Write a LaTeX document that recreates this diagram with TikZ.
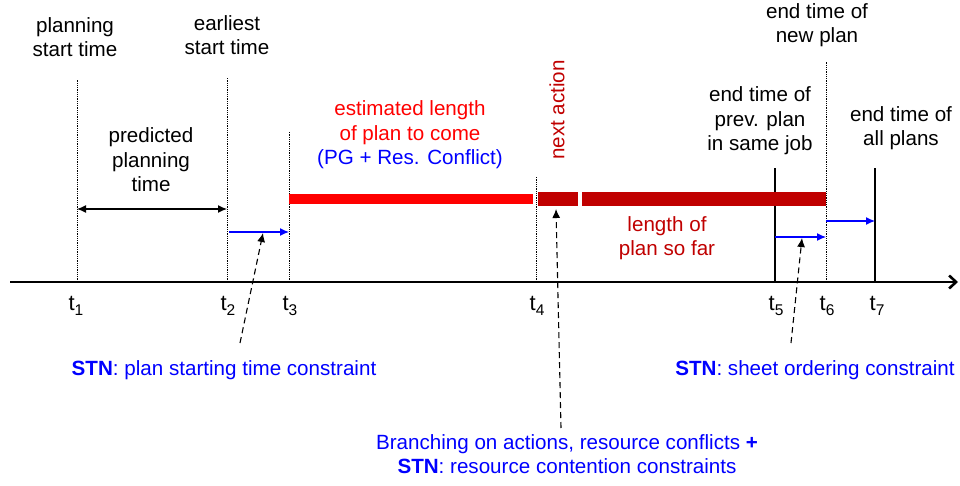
\documentclass[tikz,border=0pt]{standalone}
\usepackage{fontspec}
\setmainfont{Liberation Sans}
\usetikzlibrary{arrows.meta}
\definecolor{darkred}{RGB}{192,0,0}
\tikzstyle{txt}=[align=center,inner sep=0pt,font=\fontsize{20.6}{24.5}\selectfont]
\tikzstyle{tlab}=[anchor=base,inner sep=0pt,font=\fontsize{22}{24}\selectfont]
\newcommand{\tsub}[1]{t\raisebox{-5pt}{\fontsize{15.5}{16}\selectfont #1}}

\begin{document}
\begin{tikzpicture}[x=1pt,y=1pt]
\tikzstyle{tick}=[densely dotted,line width=0.8pt]
\tikzstyle{post}=[line width=1.9pt]
\tikzstyle{stn}=[blue,line width=1.2pt,-{Latex[length=9pt,width=8pt]}]
\tikzstyle{hint}=[dash pattern=on 6pt off 4pt,line width=1.1pt,-{Latex[length=9pt,width=8pt]}]
\useasboundingbox (0,0) rectangle (960,485);
% time axis
\coordinate (o) at (10,203);
\coordinate (e) at (958,203);
\draw[line width=2.6pt,-{Straight Barb[length=7pt,width=13pt]}] (o) -- (e);
% time points
\coordinate (a1) at (77,203);
\coordinate (a2) at (227,203);
\coordinate (a3) at (289,203);
\coordinate (a4) at (536,203);
\coordinate (a5) at (775,203);
\coordinate (a6) at (826,203);
\coordinate (a7) at (875,203);
\coordinate (h1) at (77,405);
\coordinate (h2) at (227,408);
\coordinate (h3) at (289,353);
\coordinate (h4) at (536,308);
\coordinate (h5) at (775,317);
\coordinate (h6) at (826,423);
\coordinate (h7) at (875,317);
\draw[tick] (a1) -- (h1);
\draw[tick] (a2) -- (h2);
\draw[tick] (a3) -- (h3);
\draw[tick] (a4) -- (h4);
\draw[post] (a5) -- (h5);
\draw[tick] (a6) -- (h6);
\draw[post] (a7) -- (h7);
\node[tlab] (t1) at (76,175) {\tsub{1}};
\node[tlab] (t2) at (228,175) {\tsub{2}};
\node[tlab] (t3) at (290,175) {\tsub{3}};
\node[tlab] (t4) at (537,175) {\tsub{4}};
\node[tlab] (t5) at (776,175) {\tsub{5}};
\node[tlab] (t6) at (827,175) {\tsub{6}};
\node[tlab] (t7) at (877,175) {\tsub{7}};
% plan bars
\coordinate (r1) at (289,285.5);
\coordinate (r2) at (533,285.5);
\coordinate (n1) at (538,286);
\coordinate (n2) at (578,286);
\coordinate (n3) at (582,286);
\coordinate (n4) at (826,286);
\draw[red,line width=10pt] (r1) -- (r2);
\draw[darkred,line width=14pt] (n1) -- (n2);
\draw[darkred,line width=14pt] (n3) -- (n4);
% intervals
\coordinate (p1) at (77,276);
\coordinate (p2) at (227,276);
\draw[line width=1.2pt,{Latex[length=9pt,width=8pt]}-{Latex[length=9pt,width=8pt]}] (p1) -- (p2);
\coordinate (b1) at (229,253);
\coordinate (b2) at (289,253);
\draw[stn] (b1) -- (b2);
\coordinate (b3) at (775,248);
\coordinate (b4) at (826,248);
\draw[stn] (b3) -- (b4);
\coordinate (b5) at (826,264);
\coordinate (b6) at (875,264);
\draw[stn] (b5) -- (b6);
% labels
\node[txt] (l1) at (75,448) {planning\\start time};
\node[txt] (l2) at (227,450) {earliest\\start time};
\node[txt] (l3) at (151,325) {predicted\\planning\\time};
\node[txt,red] (l4) at (410,350) {estimated length\\of plan to come\\\textcolor{blue}{(PG + Res. Conflict)}};
\node[txt,darkred,rotate=90] (l5) at (557,375) {next action};
\node[txt,darkred] (l6) at (667,247) {length of\\plan so far};
\node[txt] (l7) at (760,364) {end time of\\prev. plan\\in same job};
\node[txt] (l8) at (817,460) {end time of\\new plan};
\node[txt] (l9) at (901,357) {end time of\\all plans};
% constraints
\node[txt,blue] (c1) at (224,115) {\textbf{STN}: plan starting time constraint};
\node[txt,blue] (c2) at (815,115) {\textbf{STN}: sheet ordering constraint};
\node[txt,blue] (c3) at (567,31) {Branching on actions, resource conflicts \textbf{+}\\\textbf{STN}: resource contention constraints};
\coordinate (d1) at (240,142);
\coordinate (e1) at (263,252);
\draw[hint] (d1) -- (e1);
\coordinate (d2) at (561,57);
\coordinate (e2) at (556,276);
\draw[hint] (d2) -- (e2);
\coordinate (d3) at (791,142);
\coordinate (e3) at (802,247);
\draw[hint] (d3) -- (e3);
\end{tikzpicture}
\end{document}
